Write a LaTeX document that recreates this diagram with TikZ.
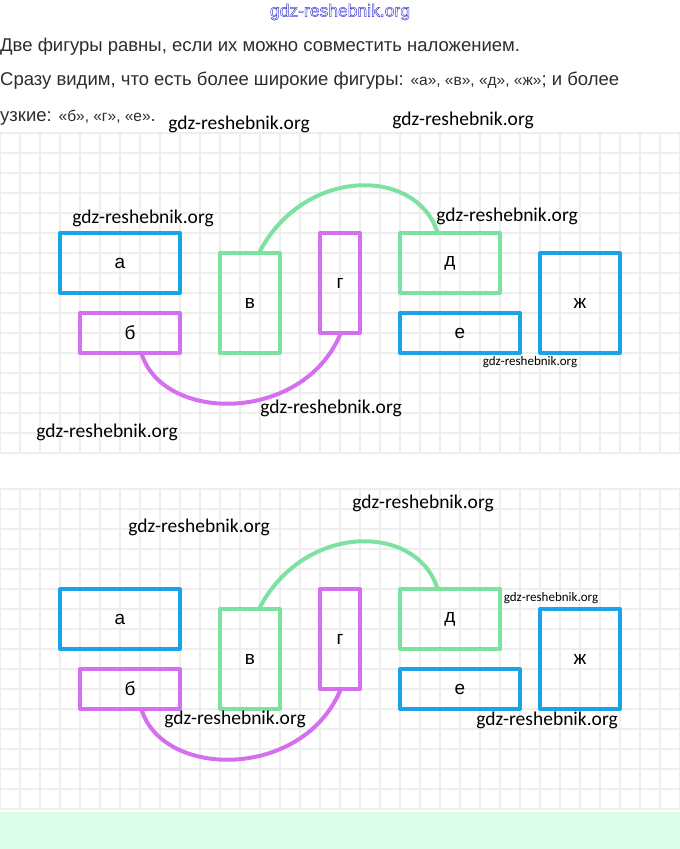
\documentclass[tikz,border=0pt]{standalone}
\usepackage{fontspec}
\setmainfont{Liberation Sans}
\newfontfamily\wmfont{Carlito}

\definecolor{figblue}{RGB}{27,163,232}
\definecolor{figgreen}{RGB}{125,225,160}
\definecolor{figpurple}{RGB}{212,112,240}
\definecolor{gridgray}{RGB}{238,238,238}
\definecolor{bandgreen}{RGB}{220,253,233}
\definecolor{textgray}{RGB}{45,45,45}
\definecolor{titleblue}{RGB}{70,70,215}

\begin{document}
\begin{tikzpicture}[x=1pt, y=1pt,
        fig/.style={draw=#1, line width=4pt, line join=round, inner sep=0pt, text=black, font=\fontsize{19}{19}\selectfont},
        arcline/.style={line width=4pt, line cap=round},
        wm/.style={text=black, inner sep=0pt, font=\wmfont\fontsize{19.5}{20}\selectfont},
        wmsmall/.style={text=black, inner sep=0pt, font=\wmfont\fontsize{13}{13}\selectfont},
        para/.style={anchor=base west, inner sep=0pt, text=textgray, font=\fontsize{18.5}{19}\selectfont},
        gridline/.style={gridgray, line width=1.2pt}]
        \useasboundingbox (0,0) rectangle (680,-849);
        \fill [white] (0,0) rectangle (680,-849);
        % squared paper
        \draw [gridline, step=20, yshift=-13pt] (0,-440) grid (680,-120);
        \draw [gridline, step=20, yshift=-9pt] (0,-800) grid (680,-480);
        \fill [bandgreen] (0,-812) rectangle (680,-849);
        % text above
        \node [font=\fontsize{17.5}{17.5}\selectfont, text=titleblue] (title) at (340,-12) {\special{pdf:code q 1 Tr 0.5 w}gdz-reshebnik.org\special{pdf:code Q}};
        \node [para] (line1) at (0,-51) {Две фигуры равны, если их можно совместить наложением.};
        \node [para] (line2) at (0,-85) {Сразу видим, что есть более широкие фигуры: {\fontsize{15.5}{15.5}\selectfont«а», «в», «д», «ж»}; и более};
        \node [para] (line3) at (0,-121) {узкие: {\fontsize{15.5}{15.5}\selectfont«б», «г», «е»}.};
        % upper figures
        \node [fig=figblue, minimum width=120, minimum height=60] (a1) at (120,-263) {а};
        \node [fig=figpurple, minimum width=100, minimum height=40] (b1) at (130,-333) {б};
        \node [fig=figgreen, minimum width=60, minimum height=100] (v1) at (250,-303) {в};
        \node [fig=figpurple, minimum width=40, minimum height=100] (g1) at (340,-283) {г};
        \node [fig=figgreen, minimum width=100, minimum height=60] (d1) at (450,-263) {д};
        \node [fig=figblue, minimum width=120, minimum height=40] (e1) at (460,-333) {е};
        \node [fig=figblue, minimum width=80, minimum height=100] (zh1) at (580,-303) {ж};
        \draw [arcline, figgreen] ([xshift=10pt]v1.north) .. controls +(45,84) and +(-22,64) .. ([xshift=-13pt]d1.north);
        \draw [arcline, figpurple] ([xshift=12pt]b1.south) .. controls +(23,-68) and +(-38,-88) .. (g1.south);
        % lower figures
        \node [fig=figblue, minimum width=120, minimum height=60] (a2) at (120,-619) {а};
        \node [fig=figpurple, minimum width=100, minimum height=40] (b2) at (130,-689) {б};
        \node [fig=figgreen, minimum width=60, minimum height=100] (v2) at (250,-659) {в};
        \node [fig=figpurple, minimum width=40, minimum height=100] (g2) at (340,-639) {г};
        \node [fig=figgreen, minimum width=100, minimum height=60] (d2) at (450,-619) {д};
        \node [fig=figblue, minimum width=120, minimum height=40] (e2) at (460,-689) {е};
        \node [fig=figblue, minimum width=80, minimum height=100] (zh2) at (580,-659) {ж};
        \draw [arcline, figgreen] ([xshift=10pt]v2.north) .. controls +(45,84) and +(-22,64) .. ([xshift=-13pt]d2.north);
        \draw [arcline, figpurple] ([xshift=12pt]b2.south) .. controls +(23,-68) and +(-38,-88) .. (g2.south);
        % watermarks
        \node [wm] (wm1) at (239,-124) {gdz-reshebnik.org};
        \node [wm] (wm2) at (463,-120) {gdz-reshebnik.org};
        \node [wm] (wm3) at (143,-218) {gdz-reshebnik.org};
        \node [wm] (wm4) at (507,-216) {gdz-reshebnik.org};
        \node [wmsmall] (wm5) at (530,-362) {gdz-reshebnik.org};
        \node [wm] (wm6) at (331,-408) {gdz-reshebnik.org};
        \node [wm] (wm7) at (107,-432) {gdz-reshebnik.org};
        \node [wm] (wm8) at (423,-503) {gdz-reshebnik.org};
        \node [wm] (wm9) at (199,-527) {gdz-reshebnik.org};
        \node [wmsmall] (wm10) at (551,-598) {gdz-reshebnik.org};
        \node [wm] (wm11) at (235,-719) {gdz-reshebnik.org};
        \node [wm] (wm12) at (547,-720) {gdz-reshebnik.org};
\end{tikzpicture}
\end{document}
